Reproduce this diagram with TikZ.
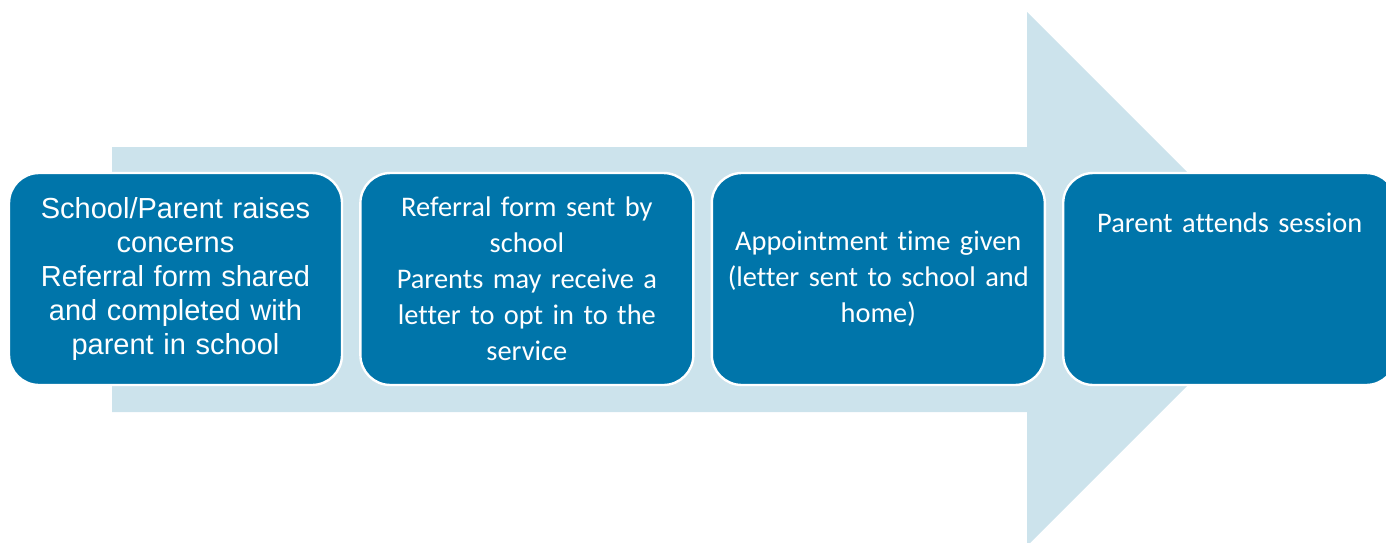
\documentclass[tikz,border=0pt]{standalone}
\usepackage{fontspec}
\setmainfont{Carlito}[Ligatures=NoCommon]
\newfontfamily\arialfont{Liberation Sans}
\usepackage{xcolor}
\usepackage{tikz}
\usetikzlibrary{positioning}
\definecolor{stepblue}{RGB}{0,117,170}
\definecolor{arrowblue}{RGB}{204,227,236}

\begin{document}
\begin{tikzpicture}[x=0.5pt,y=-0.5pt,
stage/.style={rectangle,rounded corners=15pt,draw=white,line width=1.2pt,
fill=stepblue,text=white,inner sep=2pt,minimum width=166.5pt,minimum height=106pt,
align=center,text width=160pt,font=\fontsize{14.2}{18}\selectfont},
bigarrow/.style={fill=arrowblue}]
\useasboundingbox (0,0) rectangle (1386,542);
\fill[bigarrow] (112,147) -- (1027,147) -- (1027,12) -- (1294,279) -- (1027,546) -- (1027,412) -- (112,412) -- cycle;
\node[stage,font=\arialfont\fontsize{14.5}{17}\selectfont] (concerns) at (175.5,279)
  {School/Parent raises\\ concerns\\ Referral form shared\\ and completed with\\ parent in school};
\node[stage] (referral) [right=8pt of concerns]
  {Referral form sent by\\ school\\ Parents may receive a\\ letter to opt in to the\\ service};
\node[stage] (appointment) [right=8pt of referral]
  {Appointment time given\\ (letter sent to school and\\ home)};
\node[stage,text height=10pt,text depth=57pt] (session) [right=8pt of appointment]
  {Parent attends session};
\end{tikzpicture}
\end{document}
